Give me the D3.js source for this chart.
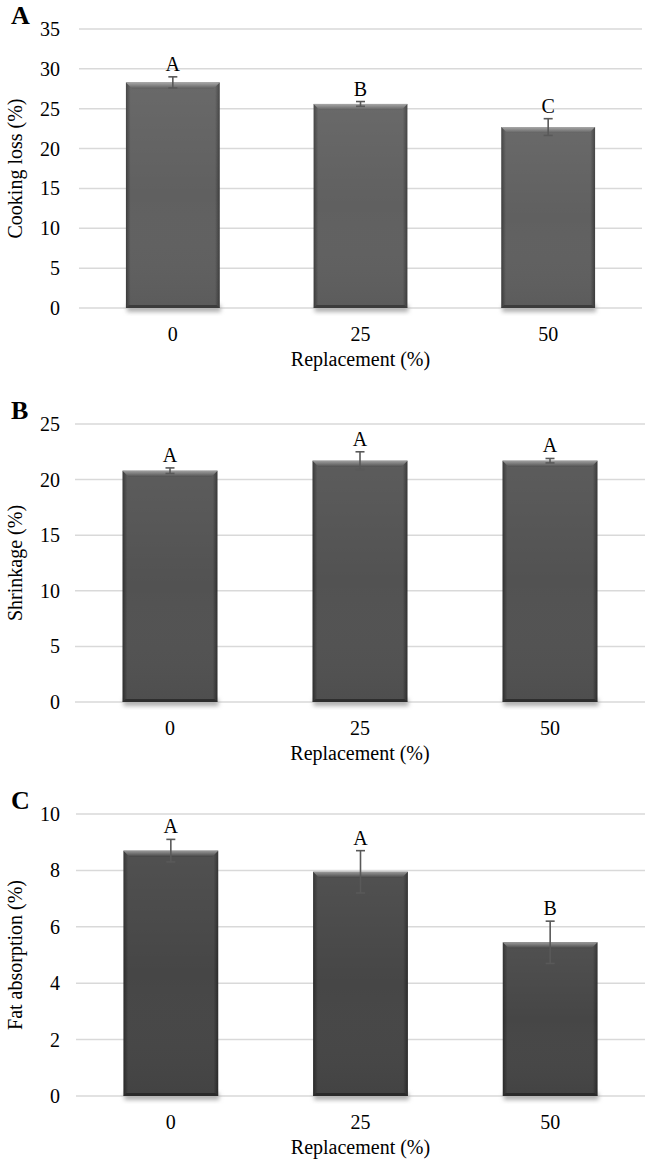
<!DOCTYPE html>
<html><head><meta charset="utf-8">
<script src="https://cdn.jsdelivr.net/npm/d3@7"></script>
<style>body{margin:0;background:#fff}svg{display:block}text{font-family:"Liberation Serif","Times New Roman",serif;fill:#000}</style>
</head><body>
<script>
const categories = ["0", "25", "50"];
const cookingLoss = [28.3, 25.6, 22.7];
const cookingLossErr = [0.7, 0.3, 1.05];
const cookingLossLetters = ["A", "B", "C"];
const shrinkage = [20.8, 21.7, 21.7];
const shrinkageErr = [0.25, 0.8, 0.2];
const shrinkageLetters = ["A", "A", "A"];
const fatAbsorption = [8.7, 7.95, 5.45];
const fatAbsorptionErr = [0.4, 0.75, 0.75];
const fatAbsorptionLetters = ["A", "A", "B"];
const ticksA = [0, 5, 10, 15, 20, 25, 30, 35];
const ticksB = [0, 5, 10, 15, 20, 25];
const ticksC = [0, 2, 4, 6, 8, 10];

const W = 646, H = 1161;
const svg = d3.select("body").append("svg").attr("width", W).attr("height", H);
const defs = svg.append("defs");
const f = defs.append("filter").attr("id", "shadow").attr("x", "-20%").attr("y", "-50%").attr("width", "140%").attr("height", "200%");
f.append("feGaussianBlur").attr("stdDeviation", 2);

function grad(id, stops, horiz) {
  const g = defs.append("linearGradient").attr("id", id)
    .attr("x1", 0).attr("y1", 0).attr("x2", horiz ? 1 : 0).attr("y2", horiz ? 0 : 1);
  stops.forEach(s => g.append("stop").attr("offset", s[0]).attr("stop-color", s[1]));
}

const panels = [
  {key: "A", values: cookingLoss, err: cookingLossErr, letters: cookingLossLetters, ticks: ticksA,
   title: "Cooking loss (%)", xr: [79, 642], yr: [308, 29], col: "#606060", hi: "#a8a8a8", side: "#3c3c3c"},
  {key: "B", values: shrinkage, err: shrinkageErr, letters: shrinkageLetters, ticks: ticksB,
   title: "Shrinkage (%)", xr: [75, 645], yr: [702, 424], col: "#525252", hi: "#a0a0a0", side: "#2e2e2e"},
  {key: "C", values: fatAbsorption, err: fatAbsorptionErr, letters: fatAbsorptionLetters, ticks: ticksC,
   title: "Fat absorption (%)", xr: [76, 645], yr: [1096, 814], col: "#464646", hi: "#9a9a9a", side: "#2a2a2a"}
];

panels.forEach((p, pi) => {
  const g = svg.append("g");
  const x = d3.scaleBand().domain(categories).range(p.xr).paddingInner(0.5).paddingOuter(0.25);
  const y = d3.scaleLinear().domain([0, d3.max(p.ticks)]).range(p.yr);

  grad("side" + pi, [[0, p.side], [0.05, p.col], [0.95, p.col], [1, p.side]], true);
  grad("vert" + pi, [[0, "rgba(255,255,255,0.06)"], [0.5, "rgba(255,255,255,0)"], [1, "rgba(0,0,0,0.05)"]], false);
  grad("top" + pi, [[0, p.hi], [1, p.col]], false);

  g.selectAll("line.grid").data(p.ticks).join("line")
    .attr("x1", p.xr[0]).attr("x2", p.xr[1])
    .attr("y1", d => y(d)).attr("y2", d => y(d))
    .attr("stroke", "#d9d9d9").attr("stroke-width", 1.5);

  g.selectAll("text.yt").data(p.ticks).join("text")
    .attr("x", 60).attr("y", d => y(d)).attr("dy", "0.35em")
    .attr("text-anchor", "end").attr("font-size", 20).text(d => d);

  const bw = x.bandwidth();
  const bars = categories.map((c, i) => ({c, v: p.values[i], e: p.err[i], l: p.letters[i]}));

  g.selectAll("rect.sh").data(bars).join("rect")
    .attr("x", d => x(d.c) + 1).attr("y", y(0) - 3).attr("width", bw).attr("height", 7)
    .attr("fill", "#b0b0b0").attr("filter", "url(#shadow)");

  g.selectAll("rect.bar").data(bars).join("rect")
    .attr("x", d => x(d.c)).attr("y", d => y(d.v)).attr("width", bw).attr("height", d => y(0) - y(d.v))
    .attr("fill", `url(#side${pi})`);
  g.selectAll("rect.bar2").data(bars).join("rect")
    .attr("x", d => x(d.c)).attr("y", d => y(d.v)).attr("width", bw).attr("height", d => y(0) - y(d.v))
    .attr("fill", `url(#vert${pi})`);
  const bev = 6;
  g.selectAll("path.top").data(bars).join("path")
    .attr("d", d => {
      const x0 = x(d.c), x1 = x0 + bw, y0 = y(d.v);
      return `M${x0},${y0}L${x1},${y0}L${x1 - bev},${y0 + bev}L${x0 + bev},${y0 + bev}Z`;
    })
    .attr("fill", `url(#top${pi})`);
  g.selectAll("path.bot").data(bars).join("path")
    .attr("d", d => {
      const x0 = x(d.c), x1 = x0 + bw, y0 = y(0);
      return `M${x0},${y0}L${x1},${y0}L${x1 - 3},${y0 - 3}L${x0 + 3},${y0 - 3}Z`;
    })
    .attr("fill", p.side);

  const cx = d => x(d.c) + bw / 2;
  g.selectAll("line.ev").data(bars).join("line")
    .attr("x1", cx).attr("x2", cx).attr("y1", d => y(d.v + d.e)).attr("y2", d => y(d.v - d.e))
    .attr("stroke", "#595959").attr("stroke-width", 1.6);
  [1, -1].forEach(s => {
    g.selectAll("line.cap" + (s > 0 ? "u" : "d")).data(bars).join("line")
      .attr("x1", d => cx(d) - 4.5).attr("x2", d => cx(d) + 4.5)
      .attr("y1", d => y(d.v + s * d.e)).attr("y2", d => y(d.v + s * d.e))
      .attr("stroke", "#595959").attr("stroke-width", 1.6);
  });

  g.selectAll("text.lt").data(bars).join("text")
    .attr("x", cx).attr("y", d => y(d.v + d.e) - 6)
    .attr("text-anchor", "middle").attr("font-size", 20).text(d => d.l);

  g.selectAll("text.xt").data(categories).join("text")
    .attr("x", d => x(d) + bw / 2).attr("y", y(0) + 33)
    .attr("text-anchor", "middle").attr("font-size", 20).text(d => d);

  g.append("text").attr("x", (p.xr[0] + p.xr[1]) / 2).attr("y", y(0) + 58)
    .attr("text-anchor", "middle").attr("font-size", 20).text("Replacement (%)");

  g.append("text").attr("transform", `translate(22,${(p.yr[0] + p.yr[1]) / 2}) rotate(-90)`)
    .attr("text-anchor", "middle").attr("font-size", 20).text(p.title);

  g.append("text").attr("x", 11).attr("y", p.yr[1] - 5)
    .attr("font-size", 26).attr("font-weight", "bold").text(p.key);
});
</script>
</body></html>
